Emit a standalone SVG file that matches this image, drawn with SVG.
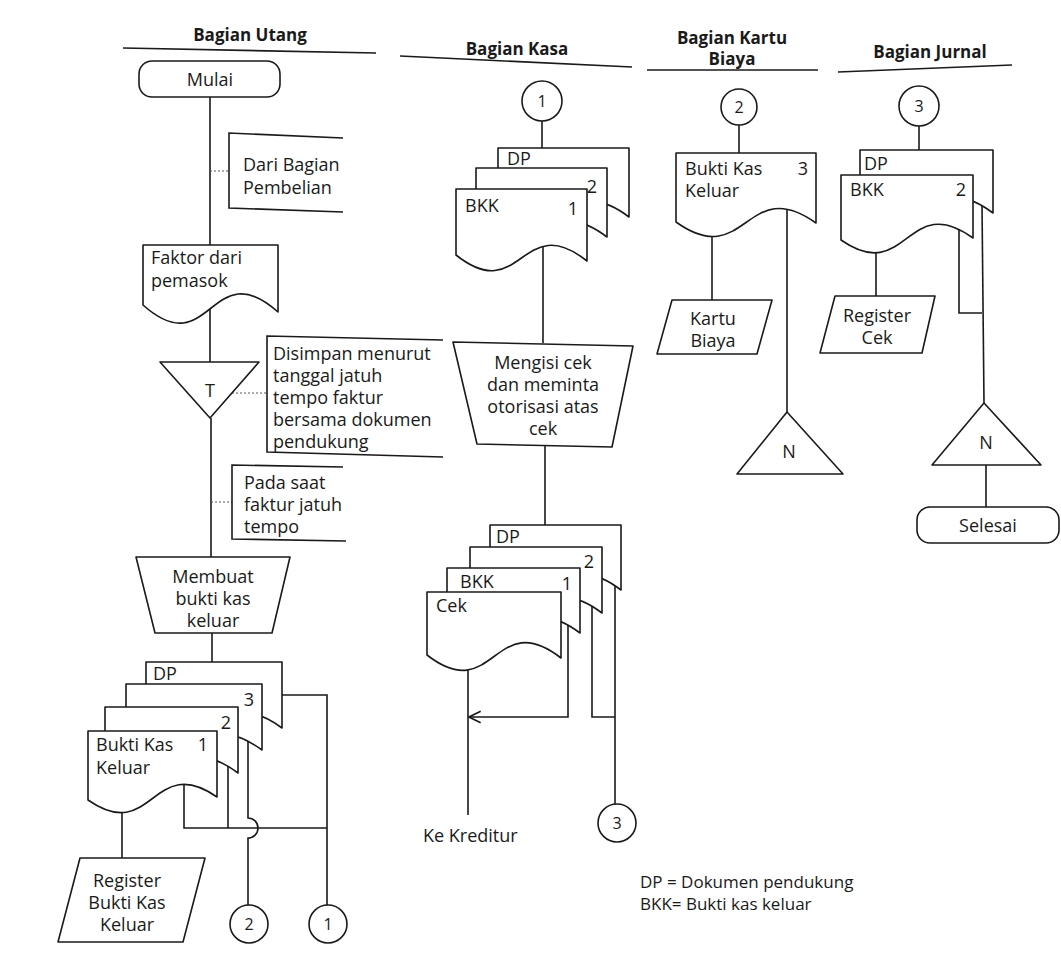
<svg xmlns="http://www.w3.org/2000/svg" width="1061" height="976" viewBox="0 0 1061 976">
<style>
.ln{stroke:#1a1a1a;stroke-width:1.6;fill:none}
.sh{fill:#fff;stroke:#1a1a1a;stroke-width:1.6;stroke-linejoin:round}
.hl{stroke:#1a1a1a;stroke-width:1.6;fill:none}
.dash{stroke:#555;stroke-width:1;stroke-dasharray:2 2;fill:none}
.t{font-family:"Open Sans","Noto Sans",sans-serif;font-size:18px;fill:#1a1a1a}
.c{text-anchor:middle}
.h{font-family:"Open Sans","Noto Sans",sans-serif;font-size:17px;font-weight:bold;fill:#1a1a1a;text-anchor:middle}
.s{font-size:16px}
.lg{font-size:17px}
</style>
<defs>
<marker id="arr" markerUnits="userSpaceOnUse" markerWidth="14" markerHeight="14" viewBox="0 0 12 12" refX="11" refY="6" orient="auto">
<path d="M1,1 L11,6 L1,11" fill="none" stroke="#1a1a1a" stroke-width="1.4"/>
</marker>
</defs>
<rect width="1061" height="976" fill="#fff"/>

<g id="headers">
<text class="h" x="250" y="41">Bagian Utang</text>
<path class="hl" d="M123,48 L376,53"/>
<text class="h" x="517" y="55">Bagian Kasa</text>
<path class="hl" d="M400,56 L632,67"/>
<text class="h" x="732" y="44">Bagian Kartu</text>
<text class="h" x="732" y="65">Biaya</text>
<path class="hl" d="M647,70 L818,70"/>
<text class="h" x="930" y="58">Bagian Jurnal</text>
<path class="hl" d="M838,72 L1012,65"/>
</g>

<g id="connectors">
<path class="ln" d="M210,97 V245"/>
<path class="ln" d="M210,306 V362"/>
<path class="ln" d="M211,418 V557"/>
<path class="ln" d="M212,633 V662"/>
<path class="ln" d="M122,805 V858"/>
<path class="ln" d="M184,785 V828 H327"/>
<path class="ln" d="M228,760 V828"/>
<path class="ln" d="M248,740 V818 A10,10 0 0 1 248,838 V905"/>
<path class="ln" d="M282,695 H327 V905"/>
<path class="dash" d="M210,171 H229"/>
<path class="dash" d="M232,393 H267"/>
<path class="dash" d="M211,502 H232"/>

<path class="ln" d="M542,121 V148"/>
<path class="ln" d="M543,245 V343"/>
<path class="ln" d="M545,446 V525"/>
<path class="ln" d="M468,660 V815"/>
<path class="ln" d="M568,620 V717 H469" marker-end="url(#arr)"/>
<path class="ln" d="M592,605 V717 H615"/>
<path class="ln" d="M615,585 V804"/>

<path class="ln" d="M739,125 V153"/>
<path class="ln" d="M712,232 V300"/>
<path class="ln" d="M787,210 V412"/>

<path class="ln" d="M919,126 V150"/>
<path class="ln" d="M876,248 V296"/>
<path class="ln" d="M959,225 V313 H982"/>
<path class="ln" d="M982,205 L984,403"/>
<path class="ln" d="M986,465 V507"/>
</g>

<g id="mulai">
<rect class="sh" x="139" y="61" width="141" height="36" rx="13"/>
<text class="t c" x="210" y="86">Mulai</text>
</g>
<g id="dari-pembelian">
<path class="ln" d="M343,138 L229,133 V208 L343,212"/>
<text class="t" x="243" y="171">Dari Bagian</text>
<text class="t" x="243" y="194">Pembelian</text>
</g>
<g id="faktor">
<path class="sh" d="M143,245 H278 V312 C210.5,252 210.5,365 143,305 Z"/>
<text class="t" x="151" y="264">Faktor dari</text>
<text class="t" x="151" y="287">pemasok</text>
</g>
<g id="arsip-t">
<path class="sh" d="M160,362 H259 L210,418 Z"/>
<text class="t c" x="210" y="397">T</text>
</g>
<g id="disimpan">
<path class="ln" d="M443,340 L267,336 V452 L443,457"/>
<text class="t" x="273" y="360">Disimpan menurut</text>
<text class="t" x="273" y="382">tanggal jatuh</text>
<text class="t" x="273" y="404">tempo faktur</text>
<text class="t" x="273" y="426">bersama dokumen</text>
<text class="t" x="273" y="448">pendukung</text>
</g>
<g id="pada-saat">
<path class="ln" d="M343,467 L232,465 V539 L346,541"/>
<text class="t" x="244" y="489">Pada saat</text>
<text class="t" x="244" y="511">faktur jatuh</text>
<text class="t" x="244" y="533">tempo</text>
</g>
<g id="membuat-bkk">
<path class="sh" d="M136,557 H290 L272,633 H155 Z"/>
<text class="t c" x="213" y="583">Membuat</text>
<text class="t c" x="213" y="605">bukti kas</text>
<text class="t c" x="213" y="627">keluar</text>
</g>
<g id="utang-bkk-stack">
<path class="sh" d="M146,662 H282 V728 C214,678 214,772 146,722 Z"/>
<text class="t" x="153" y="680">DP</text>
<path class="sh" d="M126,684 H262 V750 C194,700 194,794 126,744 Z"/>
<text class="t c" x="249" y="706">3</text>
<path class="sh" d="M105,707 H238 V773 C171.5,723 171.5,817 105,767 Z"/>
<text class="t c" x="226" y="729">2</text>
<path class="sh" d="M88,731 H217 V797 C152.5,752 152.5,845 88,800 Z"/>
<text class="t" x="96" y="751">Bukti Kas</text>
<text class="t" x="96" y="774">Keluar</text>
<text class="t c" x="203" y="751">1</text>
</g>
<g id="register-bkk">
<path class="sh" d="M80,858 H205 L183,942 H58 Z"/>
<text class="t c" x="127" y="887">Register</text>
<text class="t c" x="127" y="909">Bukti Kas</text>
<text class="t c" x="127" y="931">Keluar</text>
</g>
<g id="utang-conn-2">
<circle class="sh" cx="249" cy="924" r="19"/>
<text class="t c s" x="249" y="930">2</text>
</g>
<g id="utang-conn-1">
<circle class="sh" cx="328" cy="924" r="19"/>
<text class="t c s" x="328" y="930">1</text>
</g>

<g id="kasa-conn-1">
<circle class="sh" cx="542" cy="101" r="20"/>
<text class="t c s" x="542" y="107">1</text>
</g>
<g id="kasa-bkk-stack">
<path class="sh" d="M498,148 H629 V217 C563.5,167 563.5,261 498,211 Z"/>
<text class="t" x="507" y="165">DP</text>
<path class="sh" d="M476,168 H607 V237 C541.5,187 541.5,281 476,231 Z"/>
<text class="t c" x="592" y="193">2</text>
<path class="sh" d="M456,189 H587 V261 C521.5,209 521.5,307 456,255 Z"/>
<text class="t" x="465" y="212">BKK</text>
<text class="t c" x="573" y="215">1</text>
</g>
<g id="mengisi-cek">
<path class="sh" d="M453,342 L633,346 L612,447 L477,444 Z"/>
<text class="t c" x="543" y="369">Mengisi cek</text>
<text class="t c" x="543" y="391">dan meminta</text>
<text class="t c" x="543" y="413">otorisasi atas</text>
<text class="t c" x="543" y="435">cek</text>
</g>
<g id="kasa-cek-stack">
<path class="sh" d="M490,525 H621 V590 C555.5,540 555.5,634 490,584 Z"/>
<text class="t" x="496" y="543">DP</text>
<path class="sh" d="M470,547 H602 V613 C536,563 536,657 470,607 Z"/>
<text class="t c" x="589" y="568">2</text>
<path class="sh" d="M447,568 H580 V633 C513.5,583 513.5,677 447,627 Z"/>
<text class="t" x="460" y="588">BKK</text>
<text class="t c" x="567" y="590">1</text>
<path class="sh" d="M427,592 H561 V658 C494,606 494,707 427,655 Z"/>
<text class="t" x="436" y="612">Cek</text>
</g>
<g id="ke-kreditur">
<text class="t" x="423" y="842">Ke Kreditur</text>
</g>
<g id="kasa-conn-3">
<circle class="sh" cx="617" cy="823" r="19"/>
<text class="t c s" x="617" y="829">3</text>
</g>

<g id="kartu-conn-2">
<circle class="sh" cx="739" cy="107" r="18"/>
<text class="t c s" x="739" y="113">2</text>
</g>
<g id="kartu-bkk">
<path class="sh" d="M676,153 H816 V223 C746,173 746,272 676,222 Z"/>
<text class="t" x="685" y="175">Bukti Kas</text>
<text class="t" x="685" y="197">Keluar</text>
<text class="t c" x="803" y="175">3</text>
</g>
<g id="kartu-biaya">
<path class="sh" d="M672,300 H772 L757,354 H657 Z"/>
<text class="t c" x="713" y="325">Kartu</text>
<text class="t c" x="713" y="347">Biaya</text>
</g>
<g id="kartu-arsip-n">
<path class="sh" d="M787,412 L843,474 H737 Z"/>
<text class="t c" x="789" y="458">N</text>
</g>

<g id="jurnal-conn-3">
<circle class="sh" cx="919" cy="106" r="20"/>
<text class="t c s" x="919" y="112">3</text>
</g>
<g id="jurnal-stack">
<path class="sh" d="M860,150 H993 V213 C926.5,163 926.5,257 860,207 Z"/>
<text class="t" x="864" y="170">DP</text>
<path class="sh" d="M841,175 H973 V238 C907,190 907,286 841,240 Z"/>
<text class="t" x="850" y="196">BKK</text>
<text class="t c" x="961" y="196">2</text>
</g>
<g id="register-cek">
<path class="sh" d="M835,296 H935 L922,353 H820 Z"/>
<text class="t c" x="877" y="322">Register</text>
<text class="t c" x="877" y="344">Cek</text>
</g>
<g id="jurnal-arsip-n">
<path class="sh" d="M984,403 L1041,465 H932 Z"/>
<text class="t c" x="986" y="449">N</text>
</g>
<g id="selesai">
<rect class="sh" x="917" y="507" width="142" height="36" rx="13"/>
<text class="t c" x="988" y="532">Selesai</text>
</g>

<g id="legend">
<text class="t lg" x="640" y="888">DP = Dokumen pendukung</text>
<text class="t lg" x="640" y="910">BKK= Bukti kas keluar</text>
</g>
</svg>
